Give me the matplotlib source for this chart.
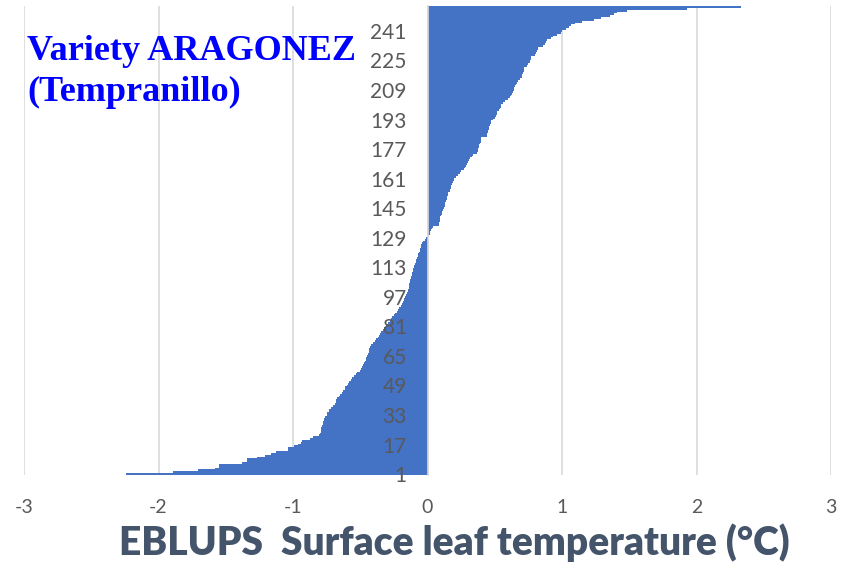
import numpy as np
import matplotlib.pyplot as plt

# EBLUP values per clone, sorted (rank 1 at the bottom)
values = [
    -2.245, -1.89, -1.705, -1.58, -1.55, -1.55, -1.38, -1.34, -1.34, -1.27,
    -1.21, -1.16, -1.13, -1.04, -1.04, -0.99, -0.96, -0.94, -0.93, -0.87,
    -0.85, -0.81, -0.80, -0.795, -0.79, -0.79, -0.785, -0.78, -0.775, -0.77,
    -0.766, -0.76, -0.75, -0.745, -0.735, -0.73, -0.715, -0.70, -0.69, -0.684,
    -0.678, -0.67, -0.66, -0.65, -0.634, -0.625, -0.617, -0.61, -0.602, -0.59,
    -0.58, -0.572, -0.56, -0.548, -0.535, -0.525, -0.503, -0.495, -0.486, -0.478,
    -0.47, -0.465, -0.46, -0.455, -0.448, -0.442, -0.438, -0.435, -0.432, -0.424,
    -0.42, -0.405, -0.39, -0.38, -0.37, -0.362, -0.355, -0.345, -0.33, -0.32,
    -0.31, -0.30, -0.292, -0.28, -0.27, -0.262, -0.25, -0.24, -0.23, -0.222,
    -0.21, -0.20, -0.19, -0.185, -0.178, -0.172, -0.164, -0.158, -0.152, -0.147,
    -0.144, -0.141, -0.138, -0.134, -0.13, -0.127, -0.123, -0.12, -0.117, -0.114,
    -0.11, -0.106, -0.102, -0.10, -0.095, -0.088, -0.082, -0.077, -0.072, -0.068,
    -0.062, -0.058, -0.055, -0.05, -0.047, -0.04, -0.035, -0.018, -0.012, 0.003,
    0.015, 0.02, 0.027, 0.035, 0.042, 0.088, 0.089, 0.09, 0.09, 0.095,
    0.10, 0.105, 0.11, 0.115, 0.125, 0.127, 0.13, 0.133, 0.14, 0.143,
    0.148, 0.15, 0.155, 0.164, 0.168, 0.172, 0.178, 0.18, 0.188, 0.195,
    0.20, 0.21, 0.225, 0.24, 0.25, 0.27, 0.28, 0.288, 0.295, 0.30,
    0.31, 0.315, 0.33, 0.335, 0.37, 0.375, 0.378, 0.38, 0.385, 0.39,
    0.395, 0.398, 0.40, 0.44, 0.445, 0.45, 0.453, 0.455, 0.46, 0.465,
    0.47, 0.475, 0.49, 0.50, 0.51, 0.515, 0.52, 0.53, 0.54, 0.545,
    0.55, 0.565, 0.575, 0.60, 0.61, 0.62, 0.63, 0.635, 0.64, 0.645,
    0.65, 0.655, 0.665, 0.67, 0.69, 0.70, 0.705, 0.71, 0.715, 0.72,
    0.72, 0.74, 0.745, 0.76, 0.765, 0.77, 0.77, 0.80, 0.81, 0.815,
    0.82, 0.82, 0.86, 0.87, 0.88, 0.89, 0.92, 0.93, 0.96, 0.99,
    1.00, 1.03, 1.05, 1.07, 1.10, 1.15, 1.24, 1.29, 1.36, 1.39,
    1.41, 1.48, 1.93, 2.33,
]
ranks = np.arange(1, len(values) + 1)
tick_ranks = list(range(1, 242, 16))
x_ticks = [-3, -2, -1, 0, 1, 2, 3]
x_ticklabels = ['-3', '-2', '-1', '0', '1', '2', '3']

fig = plt.figure(figsize=(8.46, 5.63), dpi=100)
ax = fig.add_axes([24 / 846, 1 - 475 / 563, (831 - 24) / 846, (475 - 6) / 563])

ax.barh(ranks, values, height=1.0, color='#4472C4', linewidth=0, zorder=1)

ax.set_xlim(-3, 3)
ax.set_ylim(0.5, len(values) + 0.5)

for s in ['top', 'right', 'bottom']:
    ax.spines[s].set_visible(False)
ax.spines['left'].set_position(('data', 0))
ax.spines['left'].set_color('#D9D9D9')
ax.spines['left'].set_linewidth(1.2)

ax.set_axisbelow(True)
ax.grid(axis='x', color='#D9D9D9', lw=1.2)
ax.yaxis.set_zorder(3)

ax.set_yticks(tick_ranks)
ax.set_yticklabels([str(t) for t in tick_ranks])
ax.tick_params(axis='y', length=0, pad=15, labelsize=15, labelcolor='#595959')
ax.set_xticks(x_ticks)
ax.set_xticklabels(x_ticklabels)
ax.tick_params(axis='x', length=0, pad=17, labelsize=14, labelcolor='#595959')
for lab in ax.get_xticklabels() + ax.get_yticklabels():
    lab.set_family('Lato')

fig.text(454 / 846, 1 - 543 / 563, 'EBLUPS  Surface leaf temperature (°C)',
         ha='center', va='center', fontsize=28, fontweight='heavy',
         color='#44546A', family='Lato')

fig.text(27 / 846, 1 - 35 / 563, 'Variety ARAGONEZ\n(Tempranillo)',
         ha='left', va='top', fontsize=26, fontweight='bold', color='#0000FF',
         family='Liberation Serif', linespacing=1.3)

fig.savefig('out.png', dpi=100)
